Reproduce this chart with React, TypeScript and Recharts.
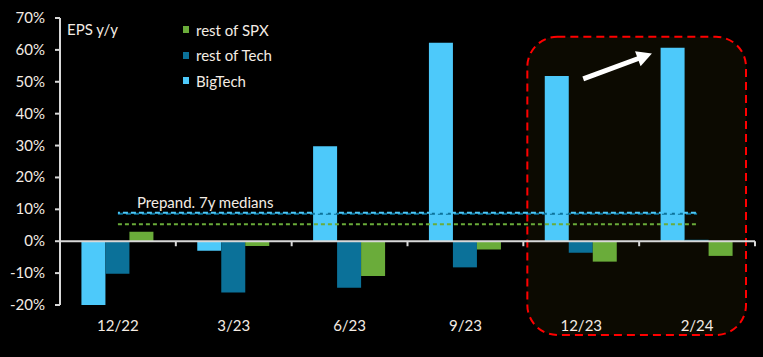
import React from 'react';
import {
  ComposedChart,
  Bar,
  Line,
  XAxis,
  YAxis,
  ReferenceLine,
  ReferenceArea,
  Legend,
  Customized,
} from 'recharts';

const categories = ['12/22', '3/23', '6/23', '9/23', '12/23', '2/24'];
const bigTech = [-20.5, -3.0, 29.8, 62.2, 51.8, 60.7];
const restOfTech = [-10.2, -16.1, -14.6, -8.2, -3.6, 0.5];
const restOfSPX = [3.0, -1.5, -10.9, -2.6, -6.4, -4.6];
const bigTechMedian = 8.9;
const restOfTechMedian = 8.6;
const restOfSPXMedian = 5.3;
const yTicks = [-20, -10, 0, 10, 20, 30, 40, 50, 60, 70];
const legendNames = ['rest of SPX', 'rest of Tech', 'BigTech'];

const C_BIG = '#4dc9fa';
const C_TECH = '#0b7199';
const C_SPX = '#6aac3a';
const legendColors = [C_SPX, C_TECH, C_BIG];
const TXT = '#f4ece4';
const AXIS = '#d9d9d9';
const FONT = 'Lato, "Open Sans", sans-serif';
const FS = 15;

const data = categories.map((c, i) => ({
  cat: c,
  bigTech: bigTech[i],
  restOfTech: restOfTech[i],
  restOfSPX: restOfSPX[i],
  mBig: bigTechMedian,
  mTech: restOfTechMedian,
  mSPX: restOfSPXMedian,
}));

const XTick = (props: any) => {
  const { x, y, payload } = props;
  return (
    <text x={x} y={y} dy={26} textAnchor="middle" fill={TXT} fontSize={FS} fontFamily={FONT}>
      {payload.value}
    </text>
  );
};

const YTick = (props: any) => {
  const { x, y, payload } = props;
  return (
    <text x={x} y={y} dy={5} textAnchor="end" fill={TXT} fontSize={FS} fontFamily={FONT}>
      {`${payload.value}%`}
    </text>
  );
};

const ZeroLine = (props: any) => {
  const { x1, y1, x2, y2 } = props;
  const n = categories.length;
  const step = (x2 - x1) / n;
  const ticks = [];
  for (let i = 1; i <= n; i++) {
    const tx = x1 + i * step;
    ticks.push(<line key={i} x1={tx} x2={tx} y1={y1} y2={y1 + 5} stroke={AXIS} strokeWidth={2} />);
  }
  return (
    <g>
      <line x1={x1} y1={y1} x2={x2} y2={y2} stroke={AXIS} strokeWidth={2} />
      {ticks}
    </g>
  );
};

const BoxShape = (props: any) => {
  const { x, y, width, height } = props;
  return (
    <rect
      x={x + 4}
      y={y}
      width={width - 13}
      height={height}
      rx={30}
      ry={30}
      fill="#0c0a01"
      stroke="#ff0000"
      strokeWidth={2}
      strokeDasharray="8 5"
    />
  );
};

const ArrowShape = (props: any) => {
  const { x1, y1, x2, y2 } = props;
  const f = 0.61;
  const ex = x1 + (x2 - x1) * f;
  const ey = y1 + (y2 - y1) * f;
  const sx = x1 + 2;
  const sy = y1 + ((y2 - y1) / (x2 - x1)) * 2;
  const ang = Math.atan2(ey - sy, ex - sx);
  const L = 15;
  const W = 8;
  const bx = ex - L * Math.cos(ang);
  const by = ey - L * Math.sin(ang);
  const px = -Math.sin(ang);
  const py = Math.cos(ang);
  return (
    <g>
      <line x1={sx} y1={sy} x2={bx + 2 * Math.cos(ang)} y2={by + 2 * Math.sin(ang)} stroke="#ffffff" strokeWidth={5} />
      <polygon
        points={`${ex},${ey} ${bx + px * W},${by + py * W} ${bx - px * W},${by - py * W}`}
        fill="#ffffff"
      />
    </g>
  );
};

const LegendContent = () => (
  <div style={{ fontFamily: FONT, fontSize: FS, color: TXT }}>
    {legendNames.map((name, i) => (
      <div key={name} style={{ display: 'flex', alignItems: 'center', height: 25.5 }}>
        <span style={{ display: 'inline-block', width: 6, height: 7, background: legendColors[i], marginRight: 7 }} />
        <span>{name}</span>
      </div>
    ))}
  </div>
);

const Annotations = () => (
  <g>
    <text x={67} y={35} fill={TXT} fontSize={FS} fontFamily={FONT}>EPS y/y</text>
    <text x={137} y={208} fill={TXT} fontSize={FS} fontFamily={FONT}>Prepand. 7y medians</text>
  </g>
);

export default function App() {
  return (
    <div style={{ position: 'absolute', left: 0, top: 0, width: 763, height: 357, background: '#000' }}>
      <ComposedChart
        width={763}
        height={357}
        data={data}
        margin={{ top: 18, right: 8, bottom: 22, left: 0 }}
        barCategoryGap="18.5%"
        barGap={0}
      >
        <ReferenceArea
          x1="12/23"
          x2="2/24"
          y1={-29.4}
          y2={64.1}
          ifOverflow="visible"
          shape={BoxShape}
        />
        <XAxis
          dataKey="cat"
          axisLine={false}
          tickLine={false}
          tickSize={0}
          tickMargin={0}
          height={30}
          tick={XTick}
          interval={0}
        />
        <YAxis
          domain={[-20, 70]}
          ticks={yTicks}
          width={60}
          axisLine={{ stroke: AXIS, strokeWidth: 2 }}
          tickLine={{ stroke: AXIS, strokeWidth: 2 }}
          tickSize={5}
          tickMargin={10}
          tick={YTick}
          allowDataOverflow
        />
        <Legend
          layout="vertical"
          align="center"
          verticalAlign="middle"
          wrapperStyle={{ left: 183, top: 17, width: 'auto', height: 'auto' }}
          content={LegendContent}
        />
        <Bar dataKey="bigTech" name="BigTech" fill={C_BIG} isAnimationActive={false} />
        <Bar dataKey="restOfTech" name="rest of Tech" fill={C_TECH} isAnimationActive={false} />
        <Bar dataKey="restOfSPX" name="rest of SPX" fill={C_SPX} isAnimationActive={false} />
        <ReferenceLine y={0} shape={ZeroLine} ifOverflow="visible" />
        <Line
          dataKey="mSPX"
          stroke={C_SPX}
          strokeWidth={2}
          strokeDasharray="4 3"
          dot={false}
          legendType="none"
          isAnimationActive={false}
        />
        <Line
          dataKey="mTech"
          stroke={C_TECH}
          strokeWidth={2}
          strokeDasharray="5 3"
          dot={false}
          legendType="none"
          isAnimationActive={false}
        />
        <Line
          dataKey="mBig"
          stroke={C_BIG}
          strokeWidth={2}
          strokeDasharray="5 3"
          strokeDashoffset={3}
          dot={false}
          legendType="none"
          isAnimationActive={false}
        />
        <ReferenceLine
          segment={[
            { x: '12/23', y: 50.7 },
            { x: '2/24', y: 64.1 },
          ]}
          ifOverflow="visible"
          shape={ArrowShape}
        />
        <Customized component={Annotations} />
      </ComposedChart>
    </div>
  );
}
